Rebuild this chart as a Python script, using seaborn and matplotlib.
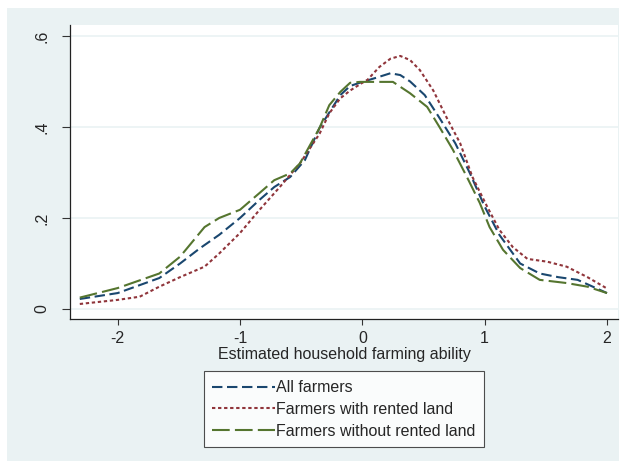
import numpy as np
import pandas as pd
import matplotlib
matplotlib.use("Agg")
import matplotlib.pyplot as plt
import seaborn as sns

# values (kernel density curves)
x_all = [-2.31, -2.0, -1.66, -1.49, -1.33, -1.17, -1.0, -0.84, -0.72, -0.59, -0.47,
         -0.35, -0.18, -0.10, 0.0, 0.10, 0.23, 0.31, 0.39, 0.51, 0.63, 0.76, 0.88,
         1.0, 1.12, 1.29, 1.45, 1.60, 1.76, 2.0]
y_all = [0.022, 0.035, 0.068, 0.100, 0.133, 0.163, 0.200, 0.240, 0.268, 0.290, 0.327,
         0.398, 0.470, 0.490, 0.499, 0.507, 0.518, 0.514, 0.500, 0.470, 0.420, 0.364, 0.298,
         0.225, 0.163, 0.100, 0.078, 0.070, 0.064, 0.035]

x_rent = [-2.31, -2.0, -1.82, -1.66, -1.49, -1.29, -1.17, -1.0, -0.84, -0.675, -0.51,
          -0.35, -0.27, -0.18, -0.10, 0.0, 0.04, 0.14, 0.23, 0.31, 0.39, 0.47, 0.58,
          0.69, 0.80, 0.90, 1.02, 1.12, 1.23, 1.35, 1.51, 1.67, 1.84, 2.0]
y_rent = [0.011, 0.020, 0.027, 0.049, 0.070, 0.093, 0.122, 0.167, 0.218, 0.268, 0.320,
          0.385, 0.430, 0.463, 0.480, 0.497, 0.503, 0.532, 0.550, 0.556, 0.547, 0.525, 0.480,
          0.420, 0.364, 0.290, 0.225, 0.174, 0.136, 0.110, 0.104, 0.093, 0.070, 0.045]

x_norent = [-2.31, -2.0, -1.66, -1.49, -1.33, -1.29, -1.17, -1.0, -0.84, -0.72, -0.59,
            -0.51, -0.35, -0.27, -0.18, -0.10, -0.02, 0.10, 0.25, 0.39, 0.53, 0.63, 0.74,
            0.855, 0.96, 1.04, 1.15, 1.29, 1.45, 1.67, 1.84, 2.0]
y_norent = [0.025, 0.046, 0.078, 0.115, 0.167, 0.180, 0.200, 0.218, 0.255, 0.283, 0.298,
            0.320, 0.398, 0.448, 0.477, 0.497, 0.499, 0.499, 0.499, 0.474, 0.444, 0.400, 0.350,
            0.290, 0.233, 0.180, 0.130, 0.090, 0.064, 0.057, 0.049, 0.035]

x_ticks = [-2, -1, 0, 1, 2]
x_ticklabels = ["-2", "-1", "0", "1", "2"]
y_ticks = [0, 0.2, 0.4, 0.6]
y_ticklabels = ["0", ".2", ".4", ".6"]

labels = ["All farmers", "Farmers with rented land", "Farmers without rented land"]
colors = ["#1a476f", "#90353b", "#55752f"]
dashes = [(5, 2.2), (1.6, 1.3), (8.5, 2.5)]

df = pd.concat([
    pd.DataFrame({"x": x_all, "y": y_all, "group": labels[0]}),
    pd.DataFrame({"x": x_rent, "y": y_rent, "group": labels[1]}),
    pd.DataFrame({"x": x_norent, "y": y_norent, "group": labels[2]}),
])

sns.set_style("white")
plt.rcParams["font.family"] = ["Liberation Sans", "DejaVu Sans"]

fig = plt.figure(figsize=(6.25, 4.61), dpi=100, facecolor="white")
# light bluish-gray graph region, drawn behind the plot axes
bg = fig.add_axes([7 / 625, 0, 612 / 625, 453 / 461], zorder=-5)
bg.set_facecolor("#eaf2f3")
bg.set_xticks([])
bg.set_yticks([])
for s in bg.spines.values():
    s.set_visible(False)

ax = fig.add_axes([70 / 625, (461 - 319) / 461, 548 / 625, 294 / 461], zorder=1)
ax.set_facecolor("white")

sns.lineplot(data=df, x="x", y="y", hue="group", style="group", palette=colors,
             dashes=dashes, sort=False, linewidth=1.5, legend=False, ax=ax)

ax.set_xlim(-2.39, 2.09)
ax.set_ylim(-0.022, 0.624)
ax.set_xticks(x_ticks)
ax.set_xticklabels(x_ticklabels)
ax.set_yticks(y_ticks)
ax.set_yticklabels(y_ticklabels, rotation=90, va="center")
ax.yaxis.grid(True, color="#eaf2f3", linewidth=1.2)
ax.set_axisbelow(True)
ax.tick_params(axis="both", labelsize=11.5, width=0.8, color="#333333",
               direction="out", left=True, bottom=True)
ax.tick_params(axis="x", length=4.5, pad=4)
ax.tick_params(axis="y", length=5.5, pad=9)
for s in ["top", "right"]:
    ax.spines[s].set_visible(False)
for s in ["left", "bottom"]:
    ax.spines[s].set_color("#222222")
    ax.spines[s].set_linewidth(0.9)
ax.set_xlabel("Estimated household farming ability", fontsize=11.5, labelpad=1)
ax.set_ylabel("")

handles = [plt.Line2D([], [], color=c, linewidth=1.5, dashes=d) for c, d in zip(colors, dashes)]
leg = ax.legend(handles, labels, loc="upper center", bbox_to_anchor=(0.5, -0.178),
                frameon=True, fancybox=False, fontsize=11.5, handlelength=3.9,
                handletextpad=0.1, labelspacing=0.42, borderpad=0.55, borderaxespad=0)
leg.get_frame().set_edgecolor("#222222")
leg.get_frame().set_linewidth(0.8)

fig.savefig("out.png", dpi=100, facecolor="white")
